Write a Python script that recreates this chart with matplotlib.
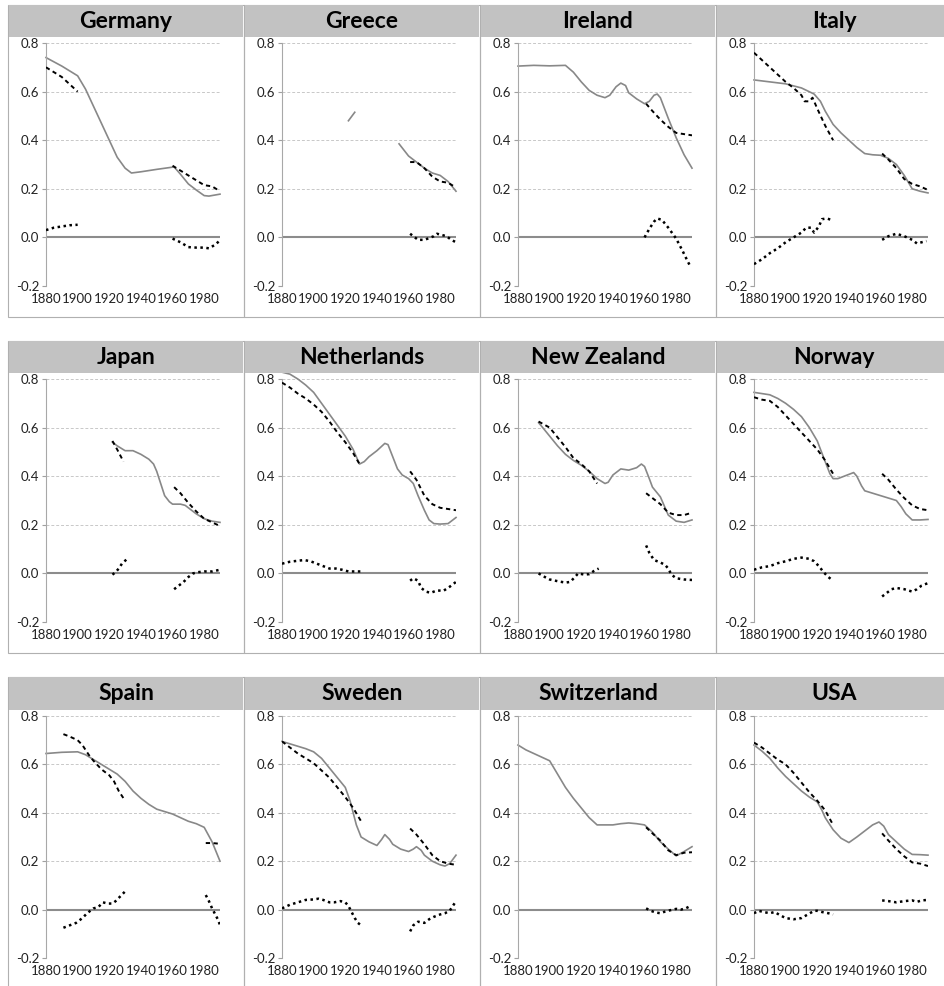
import matplotlib
matplotlib.use("Agg")
import matplotlib.pyplot as plt
from matplotlib.patches import Rectangle

############## DATA ##############
countries = ["Germany", "Greece", "Ireland", "Italy",
             "Japan", "Netherlands", "New Zealand", "Norway",
             "Spain", "Sweden", "Switzerland", "USA"]

# each series is a list of segments, each segment = (years, values)
solid = {}
dashed = {}
dotted = {}

solid["Germany"] = [([1880, 1890, 1900, 1905, 1910, 1915, 1920, 1925, 1930, 1934, 1940, 1950, 1961, 1965, 1970, 1975, 1980, 1983, 1990],
                     [0.74, 0.705, 0.665, 0.61, 0.54, 0.47, 0.40, 0.33, 0.285, 0.265, 0.27, 0.28, 0.29, 0.26, 0.22, 0.195, 0.172, 0.17, 0.178])]
dashed["Germany"] = [([1880, 1890, 1900], [0.70, 0.66, 0.60]),
                     ([1960, 1965, 1970, 1975, 1980, 1985, 1990], [0.295, 0.275, 0.255, 0.235, 0.215, 0.21, 0.19])]
dotted["Germany"] = [([1880, 1885, 1890, 1895, 1900], [0.03, 0.04, 0.045, 0.05, 0.052]),
                     ([1960, 1965, 1970, 1975, 1980, 1983, 1987, 1990], [-0.005, -0.02, -0.04, -0.042, -0.042, -0.045, -0.03, -0.012])]

solid["Greece"] = [([1922, 1926], [0.48, 0.515]),
                   ([1954, 1960, 1965, 1970, 1975, 1980, 1985, 1990], [0.385, 0.335, 0.31, 0.285, 0.265, 0.255, 0.23, 0.19])]
dashed["Greece"] = [([1961, 1965, 1970, 1975, 1980, 1985, 1990], [0.31, 0.31, 0.285, 0.25, 0.23, 0.225, 0.205])]
dotted["Greece"] = [([1961, 1963, 1966, 1970, 1973, 1976, 1978, 1981, 1984, 1987, 1990],
                     [0.015, 0.005, -0.01, -0.01, -0.003, 0.005, 0.015, 0.01, 0.005, -0.01, -0.02])]

solid["Ireland"] = [([1880, 1890, 1900, 1910, 1915, 1920, 1925, 1930, 1935, 1938, 1942, 1945, 1948, 1950, 1955, 1960, 1963, 1966, 1968, 1970, 1975, 1980, 1985, 1990],
                     [0.705, 0.708, 0.706, 0.708, 0.68, 0.64, 0.605, 0.585, 0.575, 0.585, 0.62, 0.635, 0.625, 0.595, 0.57, 0.55, 0.56, 0.585, 0.59, 0.575, 0.49, 0.41, 0.34, 0.285])]
dashed["Ireland"] = [([1961, 1965, 1970, 1975, 1980, 1985, 1990], [0.55, 0.52, 0.485, 0.455, 0.43, 0.425, 0.42])]
dotted["Ireland"] = [([1960, 1963, 1966, 1968, 1971, 1975, 1980, 1984, 1987, 1989],
                      [0.0, 0.035, 0.065, 0.078, 0.072, 0.04, -0.005, -0.055, -0.095, -0.12])]

solid["Italy"] = [([1880, 1890, 1900, 1910, 1918, 1922, 1925, 1930, 1935, 1940, 1945, 1950, 1955, 1960, 1965, 1970, 1975, 1980, 1985, 1990],
                   [0.648, 0.64, 0.632, 0.615, 0.59, 0.56, 0.52, 0.465, 0.43, 0.40, 0.37, 0.345, 0.34, 0.338, 0.325, 0.30, 0.255, 0.20, 0.19, 0.183])]
dashed["Italy"] = [([1880, 1885, 1890, 1895, 1900, 1905, 1910, 1912, 1915, 1917, 1920, 1925, 1930],
                    [0.76, 0.73, 0.70, 0.67, 0.64, 0.615, 0.585, 0.56, 0.56, 0.575, 0.53, 0.46, 0.40]),
                   ([1961, 1965, 1970, 1975, 1980, 1985, 1990], [0.345, 0.32, 0.285, 0.24, 0.22, 0.21, 0.195])]
dotted["Italy"] = [([1880, 1885, 1890, 1895, 1900, 1905, 1910, 1913, 1916, 1918, 1921, 1923, 1926, 1930],
                    [-0.11, -0.09, -0.065, -0.045, -0.02, 0.0, 0.02, 0.04, 0.04, 0.02, 0.045, 0.075, 0.078, 0.07]),
                   ([1961, 1965, 1970, 1975, 1980, 1983, 1986, 1989], [-0.01, 0.005, 0.015, 0.005, -0.01, -0.025, -0.02, -0.015])]

solid["Japan"] = [([1922, 1925, 1930, 1935, 1940, 1945, 1948, 1950, 1953, 1955, 1958, 1960, 1965, 1968, 1972, 1975, 1980, 1985, 1990],
                   [0.54, 0.525, 0.505, 0.505, 0.49, 0.47, 0.45, 0.42, 0.36, 0.32, 0.295, 0.285, 0.285, 0.28, 0.26, 0.245, 0.225, 0.215, 0.21])]
dashed["Japan"] = [([1922, 1925, 1929], [0.545, 0.51, 0.46]),
                   ([1961, 1965, 1970, 1975, 1980, 1985, 1990], [0.355, 0.33, 0.29, 0.255, 0.225, 0.21, 0.195])]
dotted["Japan"] = [([1922, 1924, 1926, 1928, 1931], [-0.005, 0.005, 0.02, 0.04, 0.058]),
                   ([1961, 1964, 1967, 1970, 1973, 1976, 1980, 1985, 1990], [-0.065, -0.05, -0.035, -0.015, 0.0, 0.005, 0.008, 0.008, 0.015])]

solid["Netherlands"] = [([1880, 1885, 1890, 1895, 1900, 1905, 1910, 1915, 1920, 1925, 1929, 1932, 1935, 1940, 1945, 1947, 1950, 1953, 1956, 1960, 1963, 1966, 1970, 1973, 1976, 1980, 1985, 1990],
                         [0.828, 0.82, 0.80, 0.775, 0.745, 0.70, 0.655, 0.61, 0.565, 0.51, 0.45, 0.46, 0.48, 0.505, 0.535, 0.53, 0.48, 0.43, 0.405, 0.39, 0.37, 0.32, 0.26, 0.22, 0.205, 0.203, 0.205, 0.23])]
dashed["Netherlands"] = [([1880, 1885, 1890, 1895, 1900, 1905, 1910, 1915, 1920, 1925, 1929],
                          [0.785, 0.765, 0.74, 0.72, 0.695, 0.665, 0.625, 0.58, 0.54, 0.495, 0.45]),
                         ([1961, 1965, 1970, 1975, 1980, 1985, 1990], [0.42, 0.385, 0.32, 0.285, 0.27, 0.265, 0.26])]
dotted["Netherlands"] = [([1880, 1885, 1890, 1894, 1898, 1902, 1906, 1910, 1914, 1918, 1922, 1926, 1930],
                          [0.04, 0.048, 0.052, 0.055, 0.05, 0.04, 0.03, 0.02, 0.02, 0.015, 0.008, 0.008, 0.008]),
                         ([1961, 1963, 1966, 1968, 1971, 1974, 1978, 1982, 1986, 1990],
                          [-0.03, -0.02, -0.03, -0.06, -0.075, -0.08, -0.07, -0.072, -0.055, -0.035])]

solid["New Zealand"] = [([1893, 1895, 1900, 1905, 1910, 1915, 1920, 1925, 1930, 1935, 1937, 1940, 1945, 1950, 1955, 1958, 1960, 1963, 1965, 1970, 1973, 1975, 1980, 1985, 1990],
                         [0.62, 0.605, 0.565, 0.525, 0.49, 0.465, 0.445, 0.42, 0.39, 0.37, 0.375, 0.405, 0.43, 0.425, 0.435, 0.45, 0.44, 0.39, 0.355, 0.315, 0.27, 0.24, 0.215, 0.21, 0.22])]
dashed["New Zealand"] = [([1893, 1900, 1905, 1910, 1915, 1920, 1925, 1930], [0.625, 0.60, 0.56, 0.52, 0.475, 0.45, 0.42, 0.37]),
                         ([1961, 1965, 1970, 1975, 1980, 1985, 1990], [0.33, 0.31, 0.285, 0.25, 0.24, 0.24, 0.25])]
dotted["New Zealand"] = [([1893, 1897, 1900, 1905, 1910, 1913, 1916, 1918, 1922, 1925, 1928, 1931],
                          [0.0, -0.015, -0.025, -0.032, -0.038, -0.035, -0.015, 0.0, -0.005, -0.003, 0.01, 0.02]),
                         ([1961, 1963, 1966, 1970, 1973, 1975, 1977, 1980, 1985, 1990],
                          [0.115, 0.085, 0.055, 0.045, 0.035, 0.02, -0.005, -0.02, -0.025, -0.027])]

solid["Norway"] = [([1880, 1885, 1890, 1895, 1900, 1905, 1910, 1915, 1920, 1925, 1928, 1930, 1933, 1937, 1943, 1945, 1948, 1950, 1955, 1960, 1965, 1970, 1973, 1976, 1980, 1985, 1990],
                    [0.745, 0.74, 0.735, 0.72, 0.70, 0.675, 0.645, 0.60, 0.545, 0.46, 0.41, 0.39, 0.39, 0.40, 0.415, 0.40, 0.36, 0.34, 0.33, 0.32, 0.31, 0.30, 0.275, 0.245, 0.22, 0.22, 0.222])]
dashed["Norway"] = [([1880, 1885, 1890, 1895, 1900, 1905, 1910, 1915, 1920, 1925, 1930],
                     [0.725, 0.715, 0.71, 0.685, 0.65, 0.615, 0.58, 0.545, 0.51, 0.465, 0.41]),
                    ([1961, 1965, 1970, 1975, 1980, 1985, 1990], [0.41, 0.385, 0.345, 0.31, 0.28, 0.265, 0.26])]
dotted["Norway"] = [([1880, 1885, 1890, 1895, 1900, 1905, 1910, 1915, 1918, 1921, 1924, 1927, 1929],
                     [0.015, 0.025, 0.03, 0.042, 0.05, 0.06, 0.065, 0.06, 0.05, 0.03, 0.005, -0.015, -0.025]),
                    ([1961, 1964, 1967, 1970, 1975, 1980, 1983, 1986, 1990],
                     [-0.095, -0.08, -0.065, -0.06, -0.065, -0.075, -0.065, -0.05, -0.04])]

solid["Spain"] = [([1880, 1890, 1900, 1905, 1910, 1915, 1920, 1925, 1930, 1935, 1940, 1945, 1950, 1955, 1960, 1965, 1970, 1975, 1980, 1985, 1990],
                   [0.645, 0.65, 0.652, 0.64, 0.62, 0.60, 0.58, 0.56, 0.53, 0.49, 0.46, 0.435, 0.415, 0.405, 0.395, 0.38, 0.365, 0.355, 0.34, 0.28, 0.20])]
dashed["Spain"] = [([1891, 1895, 1900, 1903, 1907, 1910, 1915, 1920, 1923, 1926, 1930],
                    [0.725, 0.715, 0.70, 0.68, 0.64, 0.615, 0.58, 0.555, 0.53, 0.49, 0.45]),
                   ([1981, 1985, 1990], [0.275, 0.275, 0.272])]
dotted["Spain"] = [([1891, 1895, 1899, 1903, 1906, 1910, 1913, 1916, 1919, 1922, 1924, 1927, 1930],
                    [-0.075, -0.065, -0.055, -0.035, -0.015, 0.005, 0.01, 0.03, 0.025, 0.025, 0.035, 0.055, 0.075]),
                   ([1981, 1983, 1985, 1987, 1989, 1990], [0.06, 0.035, 0.005, -0.02, -0.045, -0.065])]

solid["Sweden"] = [([1880, 1885, 1890, 1895, 1900, 1905, 1910, 1915, 1920, 1923, 1925, 1927, 1930, 1935, 1940, 1943, 1945, 1948, 1950, 1955, 1960, 1963, 1965, 1968, 1970, 1975, 1980, 1983, 1986, 1990],
                    [0.695, 0.685, 0.675, 0.665, 0.652, 0.625, 0.585, 0.545, 0.505, 0.45, 0.40, 0.35, 0.30, 0.28, 0.265, 0.29, 0.31, 0.29, 0.27, 0.25, 0.24, 0.25, 0.26, 0.245, 0.225, 0.20, 0.185, 0.18, 0.19, 0.225])]
dashed["Sweden"] = [([1880, 1885, 1890, 1895, 1900, 1905, 1910, 1915, 1920, 1925, 1930],
                     [0.695, 0.67, 0.645, 0.625, 0.605, 0.575, 0.545, 0.505, 0.465, 0.42, 0.365]),
                    ([1961, 1965, 1970, 1975, 1980, 1985, 1990], [0.335, 0.31, 0.27, 0.225, 0.20, 0.19, 0.185])]
dotted["Sweden"] = [([1880, 1885, 1890, 1895, 1900, 1903, 1906, 1910, 1913, 1917, 1920, 1922, 1924, 1926, 1928, 1930],
                     [0.005, 0.02, 0.03, 0.04, 0.042, 0.045, 0.04, 0.03, 0.03, 0.035, 0.03, 0.015, -0.01, -0.035, -0.055, -0.065]),
                    ([1961, 1963, 1966, 1970, 1973, 1976, 1980, 1983, 1986, 1988, 1990],
                     [-0.09, -0.065, -0.05, -0.055, -0.04, -0.03, -0.02, -0.015, -0.005, 0.015, 0.035])]

solid["Switzerland"] = [([1880, 1885, 1890, 1895, 1900, 1905, 1910, 1915, 1920, 1925, 1930, 1935, 1940, 1945, 1950, 1955, 1960, 1965, 1970, 1975, 1980, 1985, 1990],
                         [0.68, 0.66, 0.645, 0.63, 0.615, 0.56, 0.505, 0.46, 0.42, 0.38, 0.35, 0.35, 0.35, 0.355, 0.358, 0.355, 0.35, 0.32, 0.28, 0.25, 0.222, 0.24, 0.26])]
dashed["Switzerland"] = [([1961, 1965, 1970, 1975, 1980, 1985, 1990], [0.34, 0.315, 0.285, 0.245, 0.225, 0.235, 0.237])]
dotted["Switzerland"] = [([1961, 1964, 1967, 1970, 1973, 1976, 1980, 1983, 1986, 1989],
                          [0.005, -0.005, -0.012, -0.015, -0.008, -0.003, 0.003, 0.0, 0.005, 0.015])]

solid["USA"] = [([1880, 1885, 1890, 1895, 1900, 1905, 1910, 1915, 1920, 1923, 1925, 1930, 1935, 1940, 1945, 1950, 1955, 1959, 1962, 1965, 1970, 1975, 1980, 1985, 1990],
                 [0.68, 0.655, 0.625, 0.585, 0.55, 0.52, 0.49, 0.465, 0.445, 0.41, 0.38, 0.33, 0.295, 0.277, 0.30, 0.325, 0.35, 0.362, 0.345, 0.31, 0.28, 0.25, 0.228, 0.227, 0.225])]
dashed["USA"] = [([1880, 1885, 1890, 1895, 1900, 1905, 1910, 1915, 1920, 1925, 1930],
                  [0.69, 0.67, 0.645, 0.62, 0.60, 0.565, 0.525, 0.485, 0.45, 0.41, 0.35]),
                 ([1961, 1965, 1970, 1975, 1980, 1985, 1990], [0.315, 0.285, 0.25, 0.22, 0.195, 0.19, 0.18])]
dotted["USA"] = [([1880, 1883, 1886, 1890, 1893, 1897, 1900, 1905, 1910, 1914, 1918, 1920, 1923, 1927, 1930],
                  [-0.015, -0.005, -0.01, -0.015, -0.01, -0.025, -0.035, -0.04, -0.035, -0.02, -0.005, -0.005, -0.01, -0.015, -0.02]),
                 ([1961, 1965, 1970, 1975, 1980, 1983, 1986, 1990], [0.038, 0.035, 0.03, 0.035, 0.038, 0.032, 0.038, 0.04])]

x_ticks = [1880, 1900, 1920, 1940, 1960, 1980]
y_ticks = [-0.2, 0.0, 0.2, 0.4, 0.6, 0.8]

############## PLOT ##############
W, H = 944, 986
fig = plt.figure(figsize=(W / 100, H / 100), dpi=100)
plt.rcParams['font.family'] = ['Lato', 'DejaVu Sans']

def fx(px):
    return px / W

def fy(py):
    return 1 - py / H

row_title_top = [5, 341, 677]
row_title_bot = [37, 373, 710]
row_ax_top = [43, 379, 716]
row_ax_bot = [286, 622, 958]
row_panel_bot = [317, 653, 990]

for i, name in enumerate(countries):
    r, c = divmod(i, 4)
    x0 = 8 + 236 * c
    # panel frame
    fig.add_artist(Rectangle((fx(x0), fy(row_panel_bot[r])), fx(236), (row_panel_bot[r] - row_title_top[r]) / H,
                             transform=fig.transFigure, facecolor='none', edgecolor='#b0b0b0', lw=0.8))
    # title bar
    fig.add_artist(Rectangle((fx(x0 + 1), fy(row_title_bot[r])), fx(234), (row_title_bot[r] - row_title_top[r]) / H,
                             transform=fig.transFigure, facecolor='#c2c2c2', edgecolor='none'))
    fig.text(fx(x0 + 118), fy((row_title_top[r] + row_title_bot[r]) / 2), name,
             ha='center', va='center', fontsize=16.5, fontweight='bold', color='black')

    ax = fig.add_axes([fx(46 + 236 * c), fy(row_ax_bot[r]), fx(174), (row_ax_bot[r] - row_ax_top[r]) / H])
    ax.set_xlim(1880, 1990)
    ax.set_ylim(-0.2, 0.8)
    for g in [0.2, 0.4, 0.6, 0.8]:
        ax.axhline(g, color='#c8c8c8', lw=0.7, ls=(0, (3, 2)), zorder=0)
    ax.axhline(0, color='#8c8c8c', lw=1.5, zorder=1)

    for xs, ys in solid[name]:
        ax.plot(xs, ys, color='#888888', lw=1.2, clip_on=False, zorder=2)
    for xs, ys in dashed[name]:
        ax.plot(xs, ys, color='black', lw=1.4, ls=(0, (2.2, 1.8)), zorder=3)
    for xs, ys in dotted[name]:
        ax.plot(xs, ys, color='black', lw=1.8, ls=(0, (1, 1.4)), dash_capstyle='butt', zorder=3)

    ax.set_xticks(x_ticks)
    ax.set_yticks(y_ticks)
    ax.set_yticklabels(['%.1f' % v for v in y_ticks])
    ax.tick_params(axis='x', length=0, pad=5, labelsize=9.5, colors='#222222')
    ax.tick_params(axis='y', length=3, pad=2, labelsize=9.5, colors='#222222', color='#a0a0a0')
    for s in ['top', 'right', 'bottom']:
        ax.spines[s].set_visible(False)
    ax.spines['left'].set_color('#a8a8a8')
    ax.set_facecolor('none')

fig.savefig("out.png", dpi=100)
